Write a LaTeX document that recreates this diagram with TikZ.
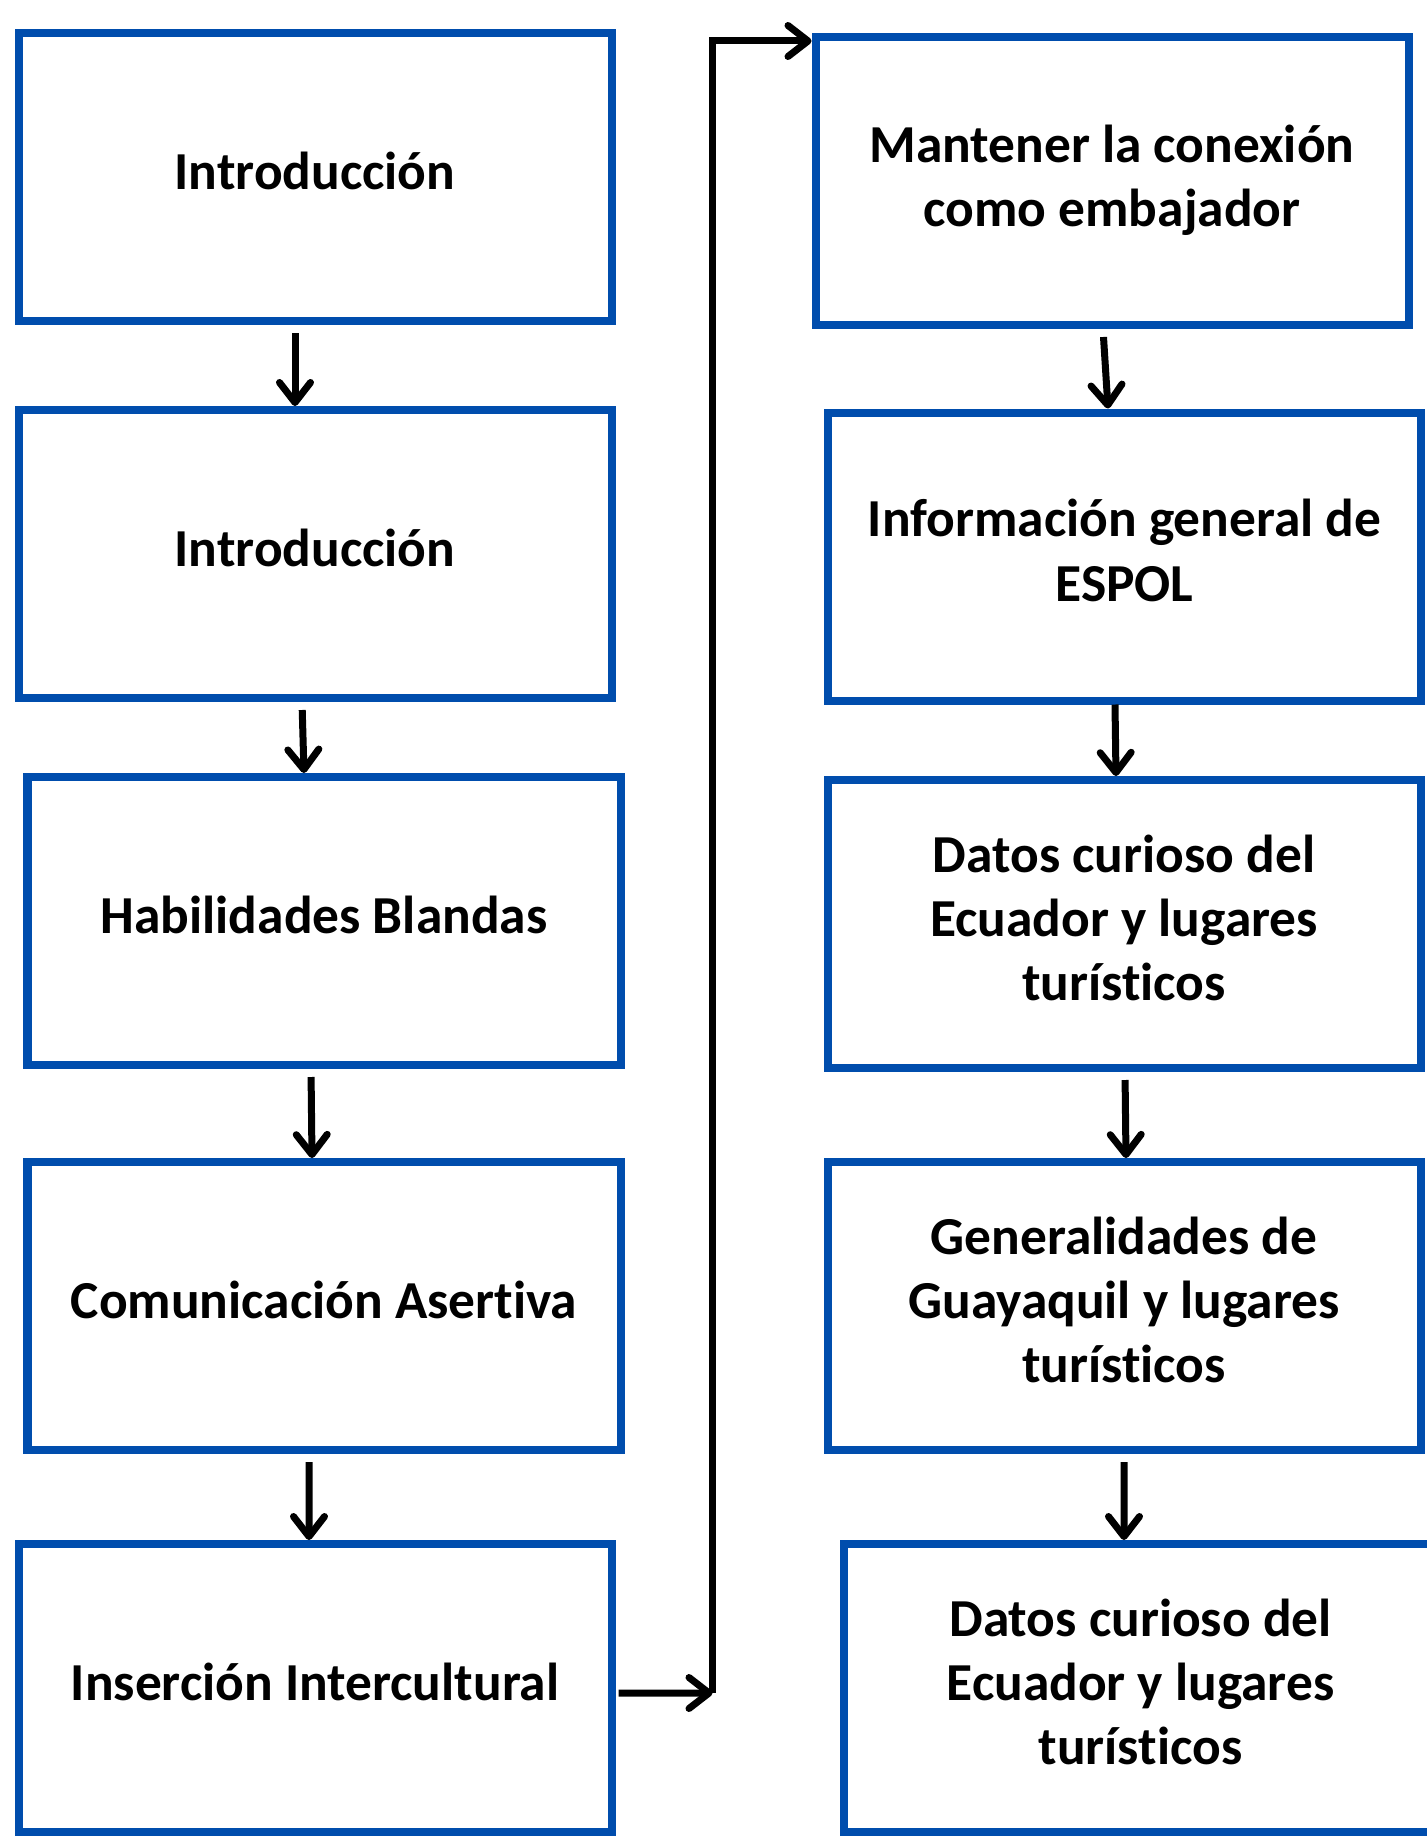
\documentclass[tikz,border=0pt]{standalone}
\usepackage{fontspec}
\setmainfont[Ligatures=NoCommon]{Carlito}
\usetikzlibrary{arrows.meta}
\definecolor{boxblue}{RGB}{0,77,173}

\begin{document}
\begin{tikzpicture}[
  caja/.style={draw=boxblue, line width=0.16cm, minimum width=11.86cm,
    minimum height=5.76cm, inner sep=0pt},
  texto/.style={align=center, yshift=0.12cm,
    font=\fontsize{30.4}{36.5}\selectfont\bfseries},
  flecha/.style={line width=0.14cm,
    -{Straight Barb[round,length=0.4cm,width=0.62cm]}},
  paso/.style={flecha, shorten <=0.16cm}
]

\useasboundingbox (0,0) rectangle (28.52,-36.72);

% left column
\node[caja, label={[texto]center:Introducción}] (intro1) at (6.30,-3.54) {};
\node[caja, label={[texto]center:Introducción}] (intro2) at (6.30,-11.08) {};
\node[caja, label={[texto]center:Habilidades Blandas}] (habil) at (6.48,-18.42) {};
\node[caja, label={[texto]center:Comunicación Asertiva}] (comun) at (6.48,-26.12) {};
\node[caja, label={[texto]center:Inserción Intercultural}] (inser) at (6.30,-33.76) {};

% right column
\node[caja, label={[texto,yshift=-0.1cm]center:{Mantener la conexión\\como embajador}}] (mant) at (22.24,-3.62) {};
\node[caja, label={[texto]center:{Información general de\\ESPOL}}] (espol) at (22.49,-11.13) {};
\node[caja, label={[texto]center:{Datos curioso del\\Ecuador y lugares\\turísticos}}] (datos1) at (22.48,-18.48) {};
\node[caja, label={[texto]center:{Generalidades de\\Guayaquil y lugares\\turísticos}}] (guaya) at (22.48,-26.12) {};
\node[caja, label={[texto]center:{Datos curioso del\\Ecuador y lugares\\turísticos}}] (datos2) at (22.81,-33.76) {};

\coordinate (bend) at (14.25,-33.86);

\draw[paso] ([xshift=-0.4cm]intro1.south) -- ([xshift=-0.4cm]intro2.north);
\draw[paso] ([xshift=-0.26cm]intro2.south) -- ([xshift=-0.4cm]habil.north);
\draw[paso] ([xshift=-0.26cm]habil.south) -- ([xshift=-0.24cm]comun.north);
\draw[paso] ([xshift=-0.3cm]comun.south) -- ([xshift=-0.12cm]inser.north);

\draw[flecha, shorten <=0.06cm] ([yshift=-0.1cm]inser.east) -- (bend);
\draw[flecha] (bend) |- ([yshift=-0.16cm]mant.north west);

\draw[paso] ([xshift=-0.18cm]mant.south) -- ([xshift=-0.33cm]espol.north);
\draw[flecha] ([xshift=-0.19cm]espol.south) -- ([xshift=-0.16cm]datos1.north);
\draw[paso] ([xshift=0.02cm]datos1.south) -- ([xshift=0.04cm]guaya.north);
\draw[paso] (guaya.south) -- ([xshift=-0.33cm]datos2.north);

\end{tikzpicture}
\end{document}
